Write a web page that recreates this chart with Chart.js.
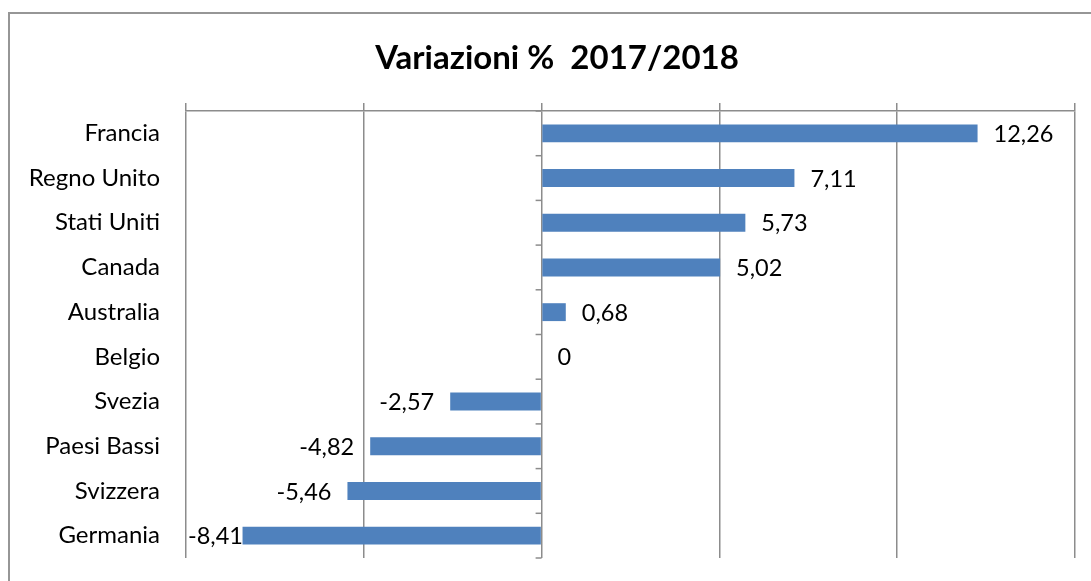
<!DOCTYPE html>
<html lang="it">
<head>
<meta charset="utf-8">
<title>Variazioni % 2017/2018</title>
<script src="https://cdn.jsdelivr.net/npm/chart.js@4"></script>
<style>
    body { margin: 0; background: #fff; }
    #box { position: relative; width: 1091px; height: 581px; overflow: hidden; }
    #cornice {
        position: absolute; left: 8px; top: 12px; width: 1200px; height: 700px;
        border-top: 2px solid #969696; border-left: 2px solid #969696;
    }
    canvas { position: absolute; left: 0; top: 0; }
</style>
</head>
<body>
<div id="box">
    <div id="cornice"></div>
    <canvas id="grafico" width="1091" height="581"></canvas>
</div>
<script>
// --- Dati ---
const paesi = ["Francia", "Regno Unito", "Stati Uniti", "Canada", "Australia",
               "Belgio", "Svezia", "Paesi Bassi", "Svizzera", "Germania"];
const variazioni = [12.26, 7.11, 5.73, 5.02, 0.68, 0, -2.57, -4.82, -5.46, -8.41];
const assiMin = -10;
const assiMax = 15;
const passo = 5;

const titolo = "Variazioni %  2017/2018";
const coloreBarre = "#4F81BD";
const coloreLinee = "#8c8c8c";
const carattere = "Lato, 'Open Sans', sans-serif";

function formatta(v) {
    return String(v).replace(".", ",");
}

// --- Titolo, tacche sull'asse dello zero, etichette dei valori ---
const pluginExtra = {
    id: "extra",
    afterDatasetsDraw(chart) {
        const ctx = chart.ctx;
        const x = chart.scales.x;
        const y = chart.scales.y;
        const area = chart.chartArea;
        const zero = x.getPixelForValue(0);

        ctx.save();

        // titolo (centrato come nell'originale, non sul canvas intero)
        ctx.fillStyle = "#000";
        ctx.font = "bold 33px " + carattere;
        ctx.textAlign = "center";
        ctx.textBaseline = "alphabetic";
        ctx.fillText(titolo, 557, 69);

        ctx.strokeStyle = coloreLinee;
        ctx.lineWidth = 1.5;
        for (let i = 0; i <= paesi.length; i++) {
            const py = y.getPixelForValue(i - 0.5);
            ctx.beginPath();
            ctx.moveTo(zero - 6, py);
            ctx.lineTo(zero, py);
            ctx.stroke();
        }

        ctx.font = "23.5px " + carattere;
        ctx.textBaseline = "middle";
        const meta = chart.getDatasetMeta(0);
        meta.data.forEach((bar, i) => {
            const v = variazioni[i];
            const testo = formatta(v);
            if (v >= 0) {
                ctx.textAlign = "left";
                ctx.fillText(testo, bar.x + 16, bar.y + 1);
            } else {
                const w = ctx.measureText(testo).width;
                let fine = bar.x - 16;
                if (fine - w < area.left + 2) fine = area.left + 2 + w;
                ctx.textAlign = "right";
                ctx.fillText(testo, fine, bar.y + 1);
            }
        });
        ctx.restore();
    }
};

// --- Grafico ---
new Chart(document.getElementById("grafico"), {
    type: "bar",
    data: {
        labels: paesi,
        datasets: [{
            data: variazioni,
            backgroundColor: coloreBarre,
            borderWidth: 0,
            barPercentage: 0.4,
            categoryPercentage: 1.0
        }]
    },
    options: {
        indexAxis: "y",
        responsive: false,
        animation: false,
        devicePixelRatio: 1,
        layout: { padding: { left: 0, right: 16, top: 103, bottom: 23 } },
        plugins: {
            legend: { display: false },
            tooltip: { enabled: false },
            title: { display: false }
        },
        scales: {
            x: {
                position: "top",
                min: assiMin,
                max: assiMax,
                ticks: { display: false, stepSize: passo },
                grid: { color: coloreLinee, lineWidth: 1.5, tickLength: 8 },
                border: { display: true, color: coloreLinee, width: 1.5 },
                afterFit(scale) {
                    scale.height = 8;
                    scale.paddingLeft = 0;
                    scale.paddingRight = 0;
                }
            },
            y: {
                grid: { display: false, drawTicks: false },
                border: { display: false },
                ticks: {
                    color: "#000",
                    padding: 26,
                    font: { family: carattere, size: 24 }
                },
                afterFit(scale) {
                    scale.width = 186;
                    scale.paddingTop = 0;
                    scale.paddingBottom = 0;
                }
            }
        }
    },
    plugins: [pluginExtra]
});
</script>
</body>
</html>
